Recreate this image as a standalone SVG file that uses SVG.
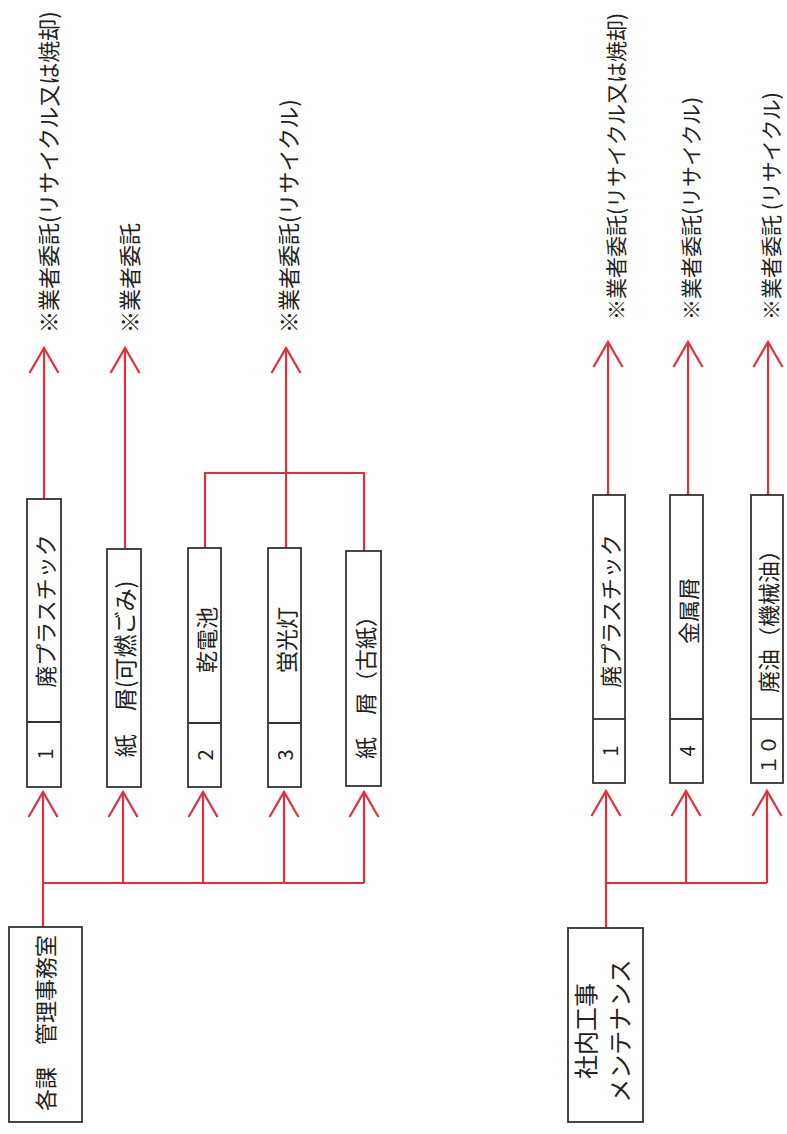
<svg xmlns="http://www.w3.org/2000/svg" width="787" height="1134" viewBox="0 0 787 1134">
<style>
.box{fill:#fff;stroke:#333;stroke-width:1.8}
.div{stroke:#333;stroke-width:1.8}
.t{font-family:"Noto Sans CJK JP","Noto Sans",sans-serif;font-size:22px;fill:#222;dominant-baseline:central}
.m{text-anchor:middle}
.s{text-anchor:start}
.ln{fill:none;stroke:#e0303c;stroke-width:2.2}
</style>
<defs>
<marker id="ah" markerUnits="userSpaceOnUse" orient="auto" markerWidth="40" markerHeight="40" refX="0" refY="0" viewBox="-30 -20 40 40" overflow="visible">
<path d="M-25,-14.5 L0,0 L-25,14.5" fill="none" stroke="#e0303c" stroke-width="2.2"/>
</marker>
</defs>
<g id="connectors">
<path class="ln" d="M43,927 V883 H364"/>
<path class="ln" d="M43,883 V792" marker-end="url(#ah)"/>
<path class="ln" d="M123,883 V792" marker-end="url(#ah)"/>
<path class="ln" d="M203,883 V792" marker-end="url(#ah)"/>
<path class="ln" d="M284,883 V792" marker-end="url(#ah)"/>
<path class="ln" d="M364,883 V792" marker-end="url(#ah)"/>
<path class="ln" d="M44,499 V348" marker-end="url(#ah)"/>
<path class="ln" d="M125,549 V348" marker-end="url(#ah)"/>
<path class="ln" d="M205,548 V473 H364 V551"/>
<path class="ln" d="M286,548 V348" marker-end="url(#ah)"/>
<path class="ln" d="M606,928 V883 H767"/>
<path class="ln" d="M606,883 V791" marker-end="url(#ah)"/>
<path class="ln" d="M686,883 V791" marker-end="url(#ah)"/>
<path class="ln" d="M767,883 V791" marker-end="url(#ah)"/>
<path class="ln" d="M608,495 V342" marker-end="url(#ah)"/>
<path class="ln" d="M688,495 V342" marker-end="url(#ah)"/>
<path class="ln" d="M768,495 V342" marker-end="url(#ah)"/>
</g>
<g id="src-left">
<rect class="box" x="9" y="927" width="73" height="195"/>
<text class="t m" transform="translate(44,1023) rotate(-90)">各課　管理事務室</text>
</g>
<g id="src-right">
<rect class="box" x="568" y="928" width="75" height="194"/>
<text class="t m" style="font-size:24px" transform="translate(584,1031) rotate(-90)">社内工事</text>
<text class="t m" style="font-size:24px" transform="translate(618,1031) rotate(-90)">メンテナンス</text>
</g>
<g id="box-l1">
<rect class="box" x="27" y="499" width="34" height="288"/>
<line class="div" x1="27" y1="722" x2="61" y2="722"/>
<text class="t m" style="font-size:20px" transform="translate(44,754) rotate(-90)">1</text>
<text class="t m" transform="translate(44,611) rotate(-90)">廃プラスチック</text>
</g>
<g id="box-l2">
<rect class="box" x="107" y="549" width="34" height="238"/>
<text class="t m" style="font-size:23px" transform="translate(124,669) rotate(-90)">紙　屑(可燃ごみ)</text>
</g>
<g id="box-l3">
<rect class="box" x="188" y="548" width="33" height="239"/>
<line class="div" x1="188" y1="723" x2="221" y2="723"/>
<text class="t m" style="font-size:20px" transform="translate(204.5,755) rotate(-90)">2</text>
<text class="t m" transform="translate(204.5,640) rotate(-90)">乾電池</text>
</g>
<g id="box-l4">
<rect class="box" x="268" y="548" width="33" height="239"/>
<line class="div" x1="268" y1="723" x2="301" y2="723"/>
<text class="t m" style="font-size:20px" transform="translate(284.5,755) rotate(-90)">3</text>
<text class="t m" transform="translate(284.5,640) rotate(-90)">蛍光灯</text>
</g>
<g id="box-l5">
<rect class="box" x="346" y="551" width="35" height="235"/>
<text class="t m" transform="translate(363.5,682) rotate(-90)">紙　屑（古紙）</text>
</g>
<g id="box-r1">
<rect class="box" x="593" y="495" width="32" height="288"/>
<line class="div" x1="593" y1="719" x2="625" y2="719"/>
<text class="t m" style="font-size:20px" transform="translate(609,751) rotate(-90)">1</text>
<text class="t m" transform="translate(609,611) rotate(-90)">廃プラスチック</text>
</g>
<g id="box-r2">
<rect class="box" x="670" y="495" width="33" height="288"/>
<line class="div" x1="670" y1="719" x2="703" y2="719"/>
<text class="t m" style="font-size:20px" transform="translate(686.5,751) rotate(-90)">4</text>
<text class="t m" transform="translate(686.5,611) rotate(-90)">金属屑</text>
</g>
<g id="box-r3">
<rect class="box" x="751" y="495" width="32" height="288"/>
<line class="div" x1="751" y1="719" x2="783" y2="719"/>
<text class="t m" style="font-size:20px" transform="translate(767,755) rotate(-90)">１０</text>
<text class="t m" transform="translate(767,616) rotate(-90)">廃油（機械油）</text>
</g>
<g id="labels">
<text class="t s" transform="translate(47,333) rotate(-90)">※業者委託(リサイクル又は焼却)</text>
<text class="t s" transform="translate(128,333) rotate(-90)">※業者委託</text>
<text class="t s" transform="translate(287,333) rotate(-90)">※業者委託(リサイクル)</text>
<text class="t s" style="font-size:21px" transform="translate(615,320) rotate(-90)">※業者委託(リサイクル又は焼却)</text>
<text class="t s" style="font-size:21px" transform="translate(690,320) rotate(-90)">※業者委託(リサイクル)</text>
<text class="t s" style="font-size:21px" transform="translate(770,320) rotate(-90)">※業者委託 (リサイクル)</text>
</g>
</svg>
